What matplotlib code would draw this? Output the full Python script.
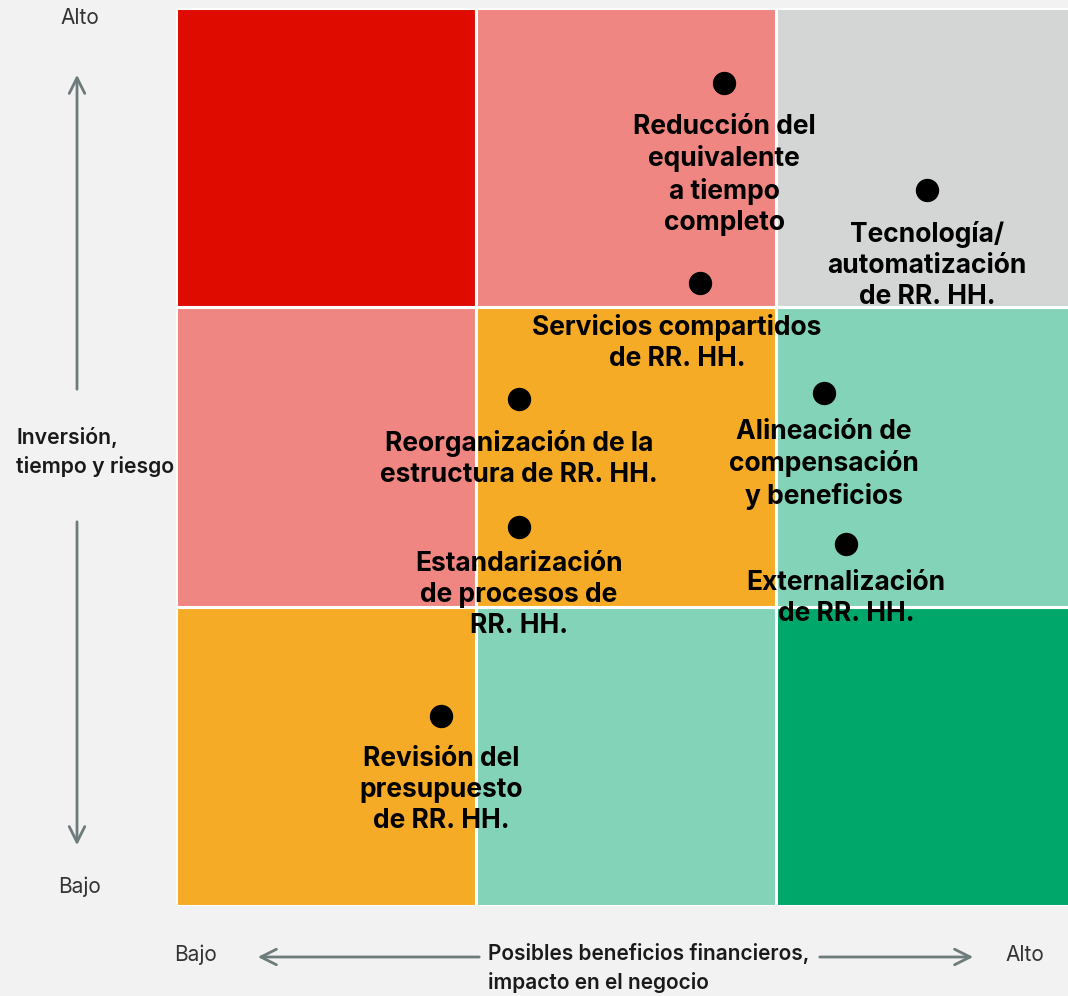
import numpy as np
import matplotlib.pyplot as plt
from matplotlib.patches import Rectangle

plt.rcParams['font.family'] = ['Inter', 'DejaVu Sans']

# 3x3 matrix colours, rows from bottom (Bajo) to top (Alto)
cell_colors = [
    ['#f5ab25', '#83d3b9', '#00a76a'],
    ['#ef8681', '#f5ab25', '#83d3b9'],
    ['#e00b00', '#ef8681', '#d4d6d5'],
]

# initiatives: x = benefits (0-3), y = investment/risk (0-3)
labels = [
    'Reducción del\nequivalente\na tiempo\ncompleto',
    'Tecnología/\nautomatización\nde RR. HH.',
    'Servicios compartidos\nde RR. HH.',
    'Reorganización de la\nestructura de RR. HH.',
    'Alineación de\ncompensación\ny beneficios',
    'Estandarización\nde procesos de\nRR. HH.',
    'Externalización\nde RR. HH.',
    'Revisión del\npresupuesto\nde RR. HH.',
]
benefit = [1.827, 2.503, 1.747, 1.143, 2.160, 1.143, 2.233, 0.883]
risk = [2.750, 2.392, 2.082, 1.694, 1.714, 1.266, 1.210, 0.635]
# label offset relative to its dot (pixels)
label_dx = [0, 0, -23, 0, 0, 0, 0, 0]
label_dy = [-31, -31, -31, -31, -26, -24, -26, -30]

fig = plt.figure(figsize=(10.68, 9.96), dpi=100, facecolor='#f2f2f2')
ax = fig.add_axes([176 / 1068, 90 / 996, 900 / 1068, 898 / 996])
ax.set_xlim(0, 3)
ax.set_ylim(0, 3)
ax.axis('off')

for r in range(3):
    for c in range(3):
        ax.add_patch(Rectangle((c, r), 1, 1, facecolor=cell_colors[r][c],
                               edgecolor='white', linewidth=2.2))

ax.scatter(benefit, risk, s=250, color='black', zorder=3)
for lab, x, y, dx, dy in zip(labels, benefit, risk, label_dx, label_dy):
    ax.annotate(lab, (x, y), xytext=(dx, dy), textcoords='offset pixels',
                ha='center', va='top', fontsize=19, fontweight='bold',
                linespacing=1.26, color='black', zorder=4)

# axis arrows and captions
gray = '#6e7b7b'
arrow = dict(arrowstyle='->', color=gray, lw=2, mutation_scale=28)

def fp(x, y):
    return (x / 1068, 1 - y / 996)

fig.add_artist(plt.Annotation('', fp(77, 72), xytext=fp(77, 392),
                              xycoords='figure fraction', arrowprops=arrow))
fig.add_artist(plt.Annotation('', fp(77, 848), xytext=fp(77, 519),
                              xycoords='figure fraction', arrowprops=arrow))
fig.add_artist(plt.Annotation('', fp(255, 957), xytext=fp(482, 957),
                              xycoords='figure fraction', arrowprops=arrow))
fig.add_artist(plt.Annotation('', fp(976, 957), xytext=fp(817, 957),
                              xycoords='figure fraction', arrowprops=arrow))

small = dict(fontsize=15, color='#333333', va='center')
fig.text(*fp(80, 18), 'Alto', ha='center', **small)
fig.text(*fp(80, 887), 'Bajo', ha='center', **small)
fig.text(*fp(196, 955), 'Bajo', ha='center', **small)
fig.text(*fp(1025, 955), 'Alto', ha='center', **small)

fig.text(*fp(16, 452), 'Inversión,\ntiempo y riesgo', ha='left', va='center',
         fontsize=15.3, fontweight='semibold', color='#1a1a1a', linespacing=1.5)
fig.text(*fp(488, 968), 'Posibles beneficios financieros,\nimpacto en el negocio',
         ha='left', va='center', fontsize=15, fontweight='semibold',
         color='#1a1a1a', linespacing=1.5)

fig.savefig('out.png', dpi=100, facecolor=fig.get_facecolor())
